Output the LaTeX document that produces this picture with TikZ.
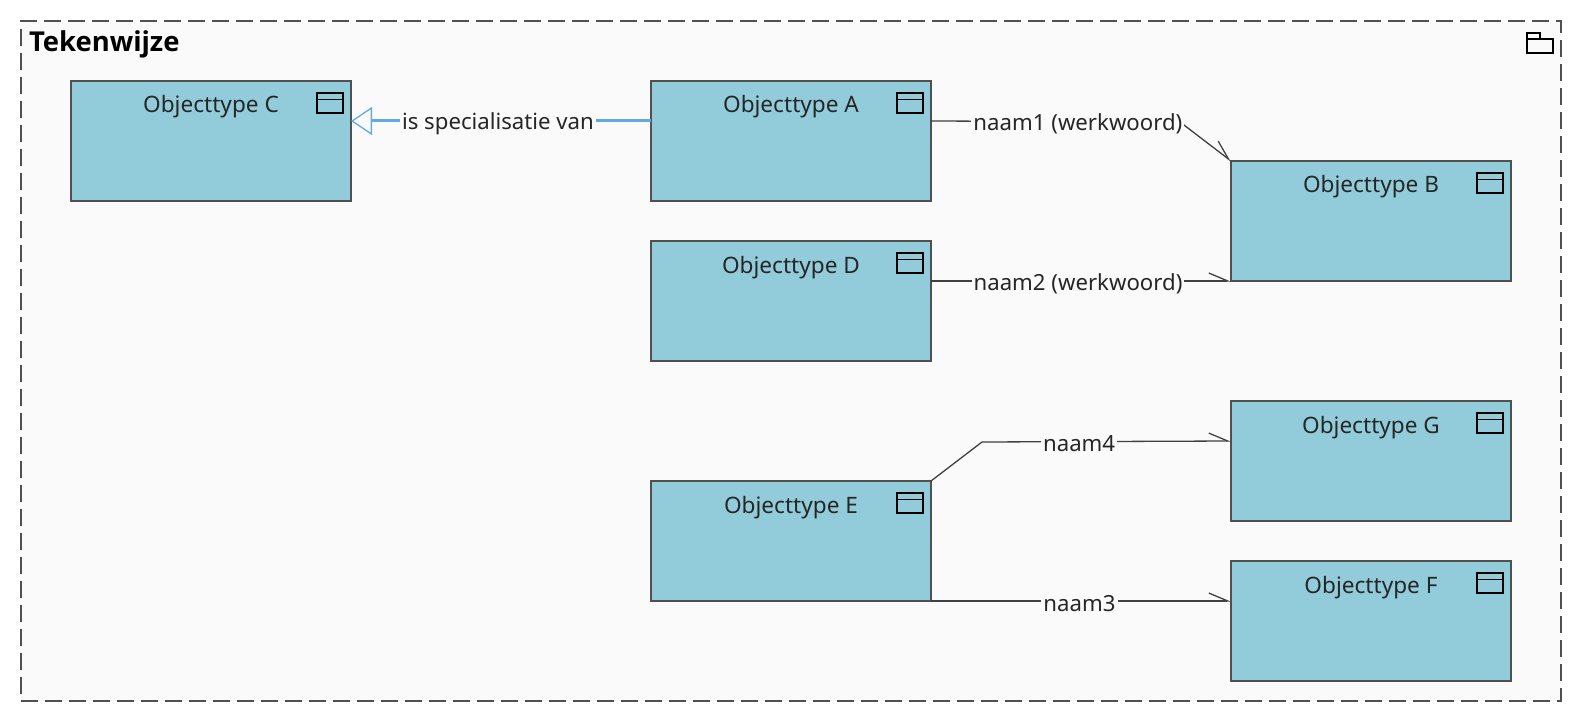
\documentclass[tikz,border=0pt]{standalone}
\usepackage{fontspec}
\setmainfont{Noto Sans}
\newfontfamily\titlefont{Open Sans}
\usepackage{xcolor}
\usetikzlibrary{arrows.meta,positioning}
\definecolor{objectfill}{HTML}{92CCDB}
\definecolor{viewfill}{HTML}{FAFAFA}
\definecolor{boxline}{HTML}{505050}
\definecolor{specline}{HTML}{62ABE0}
\newcommand{\cornerpt}[2]{([xshift=#1pt,yshift=#2pt]path picture bounding box.north east)}
\tikzset{
  every node/.style={
    font=\fontsize{22.2}{26}\selectfont,
    outer sep=0pt
  },
  view/.style={
    shape=rectangle,
    draw=boxline,
    line width=1.3pt,
    dash pattern=on 17pt off 7pt,
    fill=viewfill,
    minimum width=1540pt,
    minimum height=680pt,
    path picture={
      \draw [solid,black,line width=1.5pt]
        \cornerpt{-34}{-18} rectangle \cornerpt{-8}{-32}
        \cornerpt{-34}{-18} -- \cornerpt{-34}{-12} -- \cornerpt{-21}{-12} -- \cornerpt{-21}{-18};
    }
  },
  viewtitle/.style={
    font=\titlefont\fontsize{27.4}{32}\selectfont\bfseries,
    inner sep=0pt,
    text=black
  },
  objecttype/.style={
    shape=rectangle,
    draw=boxline,
    line width=1.3pt,
    fill=objectfill,
    minimum width=280pt,
    minimum height=120pt,
    inner ysep=0pt,
    text height=32pt,
    text depth=88pt,
    text=black!85,
    font=\fontsize{22.6}{26}\selectfont,
    path picture={
      \draw [black,line width=1.5pt]
        \cornerpt{-34}{-12} rectangle \cornerpt{-8}{-32}
        \cornerpt{-34}{-18.5} -- \cornerpt{-8}{-18.5};
    }
  },
  relation/.style={
    draw=black!75,
    line width=1.3pt,
    -{Straight Barb[left,length=19pt,width=16pt]}
  },
  specialisation/.style={
    draw=specline,
    line width=3pt,
    -{Triangle[open,line width=1.3pt,length=21pt,width=28pt]}
  },
  edgetext/.style={
    fill=viewfill,
    inner xsep=2pt,
    inner ysep=1pt,
    yshift=-2.5pt,
    text=black!85
  }
}
\begin{document}
\begin{tikzpicture}[x=1pt,y=-1pt]
    \useasboundingbox (0,0) rectangle (1582,722);
    \node [view] (tekenwijze) at (791,361) {};
    \node [viewtitle,anchor=west] (titel) at (29,44) {Tekenwijze};

    \node [objecttype] (typeC) at (211,141) {Objecttype C};
    \node [objecttype,right=300pt of typeC] (typeA) {Objecttype A};
    \node [objecttype,below=40pt of typeA] (typeD) {Objecttype D};
    \node [objecttype,below=120pt of typeD] (typeE) {Objecttype E};
    \node [objecttype] (typeB) at (1371,221) {Objecttype B};
    \node [objecttype] (typeG) at (1371,461) {Objecttype G};
    \node [objecttype,below=40pt of typeG] (typeF) {Objecttype F};

    \coordinate (bendAB) at (1180,122);
    \coordinate (bendEG) at (982,442);

    \draw [specialisation] ([yshift=20pt]typeA.west) --
      node [edgetext,pos=0.51] (spec) {is specialisatie van} ([yshift=20pt]typeC.east);
    \draw [relation] ([yshift=20pt]typeA.east) --
      node [edgetext,pos=0.59] (naamA) {naam1 (werkwoord)} (bendAB) -- (typeB.north west);
    \draw [relation] ([yshift=20pt]typeD.east) --
      node [edgetext,pos=0.49] (naamB) {naam2 (werkwoord)} (typeB.south west);
    \draw [relation] (typeE.north east) -- (bendEG) --
      node [edgetext,pos=0.39] (naamD) {naam4} ([yshift=20pt]typeG.west);
    \draw [relation] (typeE.south east) --
      node [edgetext,pos=0.495] (naamC) {naam3} ([yshift=20pt]typeF.west);
\end{tikzpicture}
\end{document}
